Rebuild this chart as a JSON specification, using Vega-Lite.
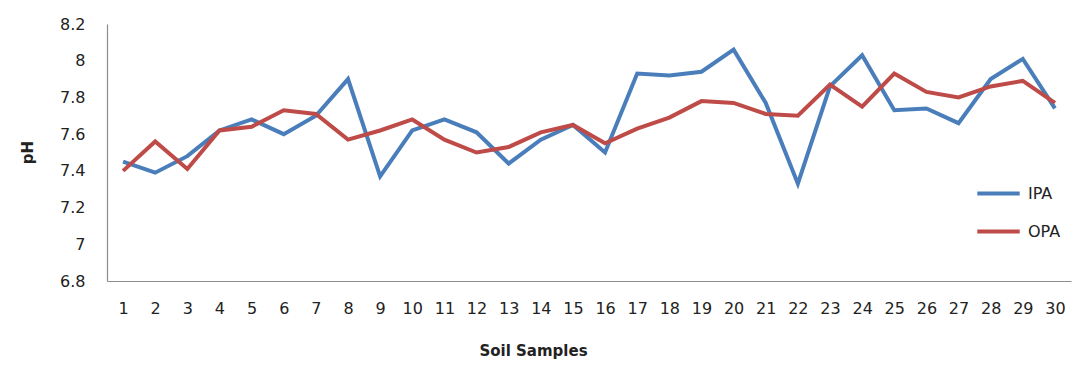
{
  "$schema": "https://vega.github.io/schema/vega-lite/v6.json",
  "width": 964,
  "height": 257,
  "autosize": {"type": "none"},
  "padding": {"left": 107, "top": 24, "right": 4, "bottom": 89},
  "background": "white",
  "config": {
    "view": {"stroke": null},
    "font": "DejaVu Sans",
    "axis": {"grid": false, "ticks": false, "domainColor": "#8c8c8c", "domainWidth": 1.2, "labelColor": "#222", "labelFont": "DejaVu Sans", "titleFont": "DejaVu Sans", "titleColor": "#222"}
  },
  "data": {
    "values": [
      {"sample": 1, "series": "IPA", "pH": 7.45}, {"sample": 1, "series": "OPA", "pH": 7.40},
      {"sample": 2, "series": "IPA", "pH": 7.39}, {"sample": 2, "series": "OPA", "pH": 7.56},
      {"sample": 3, "series": "IPA", "pH": 7.48}, {"sample": 3, "series": "OPA", "pH": 7.41},
      {"sample": 4, "series": "IPA", "pH": 7.62}, {"sample": 4, "series": "OPA", "pH": 7.62},
      {"sample": 5, "series": "IPA", "pH": 7.68}, {"sample": 5, "series": "OPA", "pH": 7.64},
      {"sample": 6, "series": "IPA", "pH": 7.60}, {"sample": 6, "series": "OPA", "pH": 7.73},
      {"sample": 7, "series": "IPA", "pH": 7.70}, {"sample": 7, "series": "OPA", "pH": 7.71},
      {"sample": 8, "series": "IPA", "pH": 7.90}, {"sample": 8, "series": "OPA", "pH": 7.57},
      {"sample": 9, "series": "IPA", "pH": 7.37}, {"sample": 9, "series": "OPA", "pH": 7.62},
      {"sample": 10, "series": "IPA", "pH": 7.62}, {"sample": 10, "series": "OPA", "pH": 7.68},
      {"sample": 11, "series": "IPA", "pH": 7.68}, {"sample": 11, "series": "OPA", "pH": 7.57},
      {"sample": 12, "series": "IPA", "pH": 7.61}, {"sample": 12, "series": "OPA", "pH": 7.50},
      {"sample": 13, "series": "IPA", "pH": 7.44}, {"sample": 13, "series": "OPA", "pH": 7.53},
      {"sample": 14, "series": "IPA", "pH": 7.57}, {"sample": 14, "series": "OPA", "pH": 7.61},
      {"sample": 15, "series": "IPA", "pH": 7.65}, {"sample": 15, "series": "OPA", "pH": 7.65},
      {"sample": 16, "series": "IPA", "pH": 7.50}, {"sample": 16, "series": "OPA", "pH": 7.55},
      {"sample": 17, "series": "IPA", "pH": 7.93}, {"sample": 17, "series": "OPA", "pH": 7.63},
      {"sample": 18, "series": "IPA", "pH": 7.92}, {"sample": 18, "series": "OPA", "pH": 7.69},
      {"sample": 19, "series": "IPA", "pH": 7.94}, {"sample": 19, "series": "OPA", "pH": 7.78},
      {"sample": 20, "series": "IPA", "pH": 8.06}, {"sample": 20, "series": "OPA", "pH": 7.77},
      {"sample": 21, "series": "IPA", "pH": 7.77}, {"sample": 21, "series": "OPA", "pH": 7.71},
      {"sample": 22, "series": "IPA", "pH": 7.33}, {"sample": 22, "series": "OPA", "pH": 7.70},
      {"sample": 23, "series": "IPA", "pH": 7.86}, {"sample": 23, "series": "OPA", "pH": 7.87},
      {"sample": 24, "series": "IPA", "pH": 8.03}, {"sample": 24, "series": "OPA", "pH": 7.75},
      {"sample": 25, "series": "IPA", "pH": 7.73}, {"sample": 25, "series": "OPA", "pH": 7.93},
      {"sample": 26, "series": "IPA", "pH": 7.74}, {"sample": 26, "series": "OPA", "pH": 7.83},
      {"sample": 27, "series": "IPA", "pH": 7.66}, {"sample": 27, "series": "OPA", "pH": 7.80},
      {"sample": 28, "series": "IPA", "pH": 7.90}, {"sample": 28, "series": "OPA", "pH": 7.86},
      {"sample": 29, "series": "IPA", "pH": 8.01}, {"sample": 29, "series": "OPA", "pH": 7.89},
      {"sample": 30, "series": "IPA", "pH": 7.74}, {"sample": 30, "series": "OPA", "pH": 7.77}
    ]
  },
  "mark": {"type": "line", "strokeWidth": 4, "strokeJoin": "miter", "strokeCap": "butt"},
  "encoding": {
    "x": {
      "field": "sample", "type": "quantitative",
      "scale": {"domain": [0.5, 30.5], "nice": false, "zero": false},
      "axis": {
        "values": [1,2,3,4,5,6,7,8,9,10,11,12,13,14,15,16,17,18,19,20,21,22,23,24,25,26,27,28,29,30],
        "labelFontSize": 16, "labelPadding": 19, "labelFlush": false,
        "title": "Soil Samples", "titleFontSize": 15, "titleFontWeight": "bold",
        "titleX": 426, "titleY": 69, "titleBaseline": "middle", "titleAlign": "center"
      }
    },
    "y": {
      "field": "pH", "type": "quantitative",
      "scale": {"domain": [6.8, 8.2], "nice": false, "zero": false},
      "axis": {
        "values": [6.8, 7, 7.2, 7.4, 7.6, 7.8, 8, 8.2], "format": "~g",
        "labelFontSize": 16, "labelPadding": 22, "labelFlush": false,
        "title": "pH", "titleFontSize": 15, "titleFontWeight": "bold",
        "titleAngle": -90, "titleX": -80, "titleY": 128, "titleBaseline": "middle", "titleAlign": "center"
      }
    },
    "color": {
      "field": "series", "type": "nominal",
      "scale": {"domain": ["IPA", "OPA"], "range": ["#4A7EBB", "#BE4B48"]},
      "legend": {
        "title": null, "orient": "none", "legendX": 868, "legendY": 146,
        "symbolType": "stroke", "symbolSize": 1800, "symbolStrokeWidth": 4,
        "labelFontSize": 16, "labelColor": "#222", "rowPadding": 6, "labelOffset": 6
      }
    }
  }
}
